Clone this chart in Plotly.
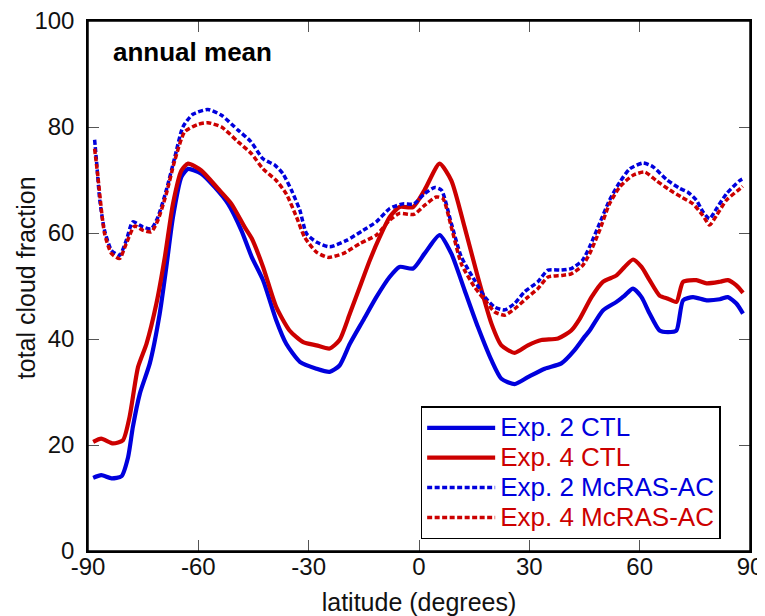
import plotly.graph_objects as go

# Exp. 2 CTL (blue solid)
lat_e2_ctl = [-88.6, -86.4, -83.6, -80.9, -79.1, -77.8, -75.9, -73.2, -70.5, -68.7, -66.9, -64.6, -62.8,
              -59.2, -55.6, -51.9, -48.3, -45.5, -42.4, -38.8, -36.1, -32.4, -27.9, -24.3, -21.6, -18.8,
              -15.2, -11.6, -8.0, -5.3, -1.6, 1.5, 5.6, 8.8, 12.4, 16.0, 19.7, 22.4, 26.0, 29.6, 34.2,
              38.7, 42.3, 45.1, 46.4, 50.0, 53.7, 55.9, 58.2, 60.5, 62.7, 65.4, 67.7, 70.0, 71.8, 74.5,
              78.2, 81.8, 84.0, 86.3, 88.1]
val_e2_ctl = [13.8, 14.3, 13.7, 14.1, 17.7, 23.4, 29.7, 35.4, 44.8, 53.6, 63.0, 70.6, 72.1,
              71.2, 68.7, 65.5, 60.5, 55.5, 51.1, 43.5, 39.1, 35.7, 34.4, 33.8, 35.0, 39.1,
              43.5, 47.9, 51.7, 53.6, 53.3, 56.1, 59.6, 56.1, 49.2, 42.3, 36.0, 32.5, 31.5, 32.8, 34.4,
              35.4, 37.9, 40.5, 41.6, 45.4, 47.0, 48.2, 49.5, 47.9, 44.8, 41.6, 41.3, 41.6, 47.3, 47.9,
              47.3, 47.5, 47.9, 46.7, 44.8]

# Exp. 4 CTL (red solid)
lat_e4_ctl = [-88.6, -86.4, -83.2, -80.5, -78.7, -76.4, -74.1, -71.4, -69.1, -66.9, -64.6, -62.8, -59.2,
              -54.7, -51.0, -47.4, -45.5, -42.4, -38.8, -35.2, -31.5, -27.9, -24.3, -21.6, -18.8, -16.1,
              -13.4, -10.7, -8.0, -5.3, -1.6, 1.5, 5.6, 8.8, 12.4, 16.0, 19.7, 22.4, 26.0, 29.6, 33.3,
              37.8, 41.4, 43.7, 46.9, 50.0, 53.7, 55.9, 58.2, 60.5, 62.7, 65.4, 67.7, 70.0, 71.8, 75.4,
              78.2, 81.8, 84.0, 86.3, 88.1]
val_e4_ctl = [20.6, 21.2, 20.3, 20.9, 25.3, 34.7, 39.1, 46.7, 55.5, 65.5, 71.8, 73.1, 71.8,
              68.4, 65.5, 61.1, 59.0, 53.6, 46.0, 41.6, 39.4, 38.8, 38.2, 39.8, 44.8, 49.8,
              54.8, 59.2, 63.0, 64.9, 64.9, 68.1, 73.1, 69.9, 61.1, 51.7, 42.9, 38.8, 37.4, 38.8, 39.8,
              40.1, 41.6, 43.8, 47.9, 50.8, 52.0, 53.6, 55.0, 53.6, 51.1, 48.2, 47.6, 47.0, 50.8, 51.1,
              50.5, 50.8, 51.1, 50.1, 48.7]

# Exp. 2 McRAS-AC (blue dotted)
lat_e2_mc = [-88.2, -87.7, -86.8, -85.5, -83.6, -81.4, -79.6, -77.8, -75.0, -72.8, -71.0, -68.7, -66.4,
             -64.2, -61.5, -57.4, -53.7, -49.2, -45.8, -42.4, -39.2, -37.0, -34.7, -32.4, -30.6, -27.9,
             -24.3, -19.7, -15.2, -11.6, -8.0, -4.4, -1.4, 1.5, 4.3, 6.1, 8.8, 11.5, 15.1, 17.9, 20.6,
             23.3, 26.0, 28.7, 32.3, 35.1, 38.7, 41.4, 44.4, 46.4, 49.1, 51.8, 54.6, 57.3, 60.9, 63.6,
             67.3, 70.9, 73.1, 75.4, 77.2, 79.0, 80.9, 83.6, 87.2, 88.0]
val_e2_mc = [77.6, 73.7, 66.2, 60.5, 56.7, 55.8, 58.6, 62.1, 61.1, 60.8, 63.0, 68.1, 74.3,
             80.0, 82.4, 83.3, 82.2, 79.4, 77.3, 74.0, 72.8, 71.2, 68.1, 64.3, 59.9, 58.3,
             57.4, 58.6, 60.5, 62.1, 64.6, 65.5, 65.5, 67.4, 68.6, 68.1, 61.8, 55.5, 51.1, 47.9, 46.0,
             45.5, 46.7, 48.9, 50.8, 53.0, 53.0, 53.3, 54.8, 57.4, 61.8, 66.2, 69.6, 72.1, 73.2, 72.5,
             70.1, 68.4, 67.7, 66.2, 64.0, 62.7, 64.6, 67.4, 69.9, 70.2]

# Exp. 4 McRAS-AC (red dotted)
lat_e4_mc = [-88.2, -87.3, -85.5, -83.6, -81.4, -79.6, -77.3, -75.0, -72.8, -71.0, -68.7, -66.4, -63.7,
             -60.1, -57.4, -53.7, -49.2, -45.6, -42.4, -38.8, -36.1, -33.3, -31.1, -27.9, -24.7, -20.7,
             -16.1, -11.6, -8.0, -5.3, -1.4, 1.5, 4.7, 6.5, 8.8, 11.5, 15.1, 18.3, 20.6, 23.3, 26.0,
             29.6, 32.3, 35.1, 38.7, 41.4, 44.4, 46.4, 49.1, 51.8, 54.6, 58.2, 61.4, 64.5, 68.2, 71.3,
             74.5, 77.2, 79.0, 80.9, 83.6, 87.7, 88.0]
val_e4_mc = [75.9, 70.6, 59.9, 56.1, 55.2, 58.0, 61.3, 60.5, 60.2, 62.4, 67.4, 73.7, 79.1,
             80.5, 80.8, 80.0, 77.2, 75.0, 72.1, 69.9, 67.4, 63.0, 59.2, 56.4, 55.4, 56.1,
             58.0, 59.6, 62.4, 63.7, 63.5, 65.2, 66.8, 66.5, 61.1, 54.2, 49.8, 47.0, 45.1, 44.5, 45.7,
             47.9, 49.5, 51.7, 52.0, 52.3, 53.8, 56.1, 60.5, 65.5, 68.7, 70.9, 71.5, 69.9, 68.1, 66.8,
             65.5, 63.3, 61.5, 63.3, 66.2, 68.6, 68.8]

names = ["Exp. 2 CTL", "Exp. 4 CTL", "Exp. 2 McRAS-AC", "Exp. 4 McRAS-AC"]
x_ticks = [-90, -60, -30, 0, 30, 60, 90]
y_ticks = [0, 20, 40, 60, 80, 100]

BLUE = "#0000dd"
RED = "#cc0000"
FONT = "Liberation Sans, Arial, sans-serif"

series = [
    (lat_e2_ctl, val_e2_ctl, BLUE, "solid", 4.2),
    (lat_e4_ctl, val_e4_ctl, RED, "solid", 4.2),
    (lat_e2_mc, val_e2_mc, BLUE, "5px,2.5px", 3.5),
    (lat_e4_mc, val_e4_mc, RED, "5px,2.5px", 3.5),
]

fig = go.Figure()
for (xs, ys, col, dash, w), nm in zip(series, names):
    fig.add_trace(go.Scatter(
        x=xs, y=ys, mode="lines",
        line=dict(color=col, width=w, dash=dash, shape="spline", smoothing=0.6),
        name=f'<span style="font-size:26px;color:{col}">{nm}</span>',
    ))

axis_common = dict(
    showline=True, linecolor="black", linewidth=1.5, mirror="ticks",
    ticks="inside", ticklen=11, tickwidth=1.3, tickcolor="#555",
    showgrid=False, zeroline=False, automargin=False,
    ticklabeloverflow="allow",
    tickfont=dict(size=24, color="#111", family=FONT),
)

# the page puts the figure 8px in from the top-left corner
fig.update_layout(
    width=757, height=608,
    margin=dict(l=80, r=15, t=13, b=65),
    paper_bgcolor="white", plot_bgcolor="white",
    font=dict(family=FONT, color="#111"),
    showlegend=True,
    legend=dict(
        x=0.5025, y=0.022, xanchor="left", yanchor="bottom",
        bordercolor="black", borderwidth=1.5, bgcolor="white",
        font=dict(size=20.7, family=FONT),
        tracegroupgap=0, itemwidth=68,
    ),
    xaxis=dict(range=[-90, 90], tickvals=x_ticks, ticktext=[str(v) for v in x_ticks],
               ticklabelstandoff=-7,
               title=dict(text="latitude (degrees)", font=dict(size=25, family=FONT), standoff=15),
               **axis_common),
    yaxis=dict(range=[0, 100], tickvals=y_ticks, ticktext=[str(v) for v in y_ticks],
               ticklabelstandoff=7,
               **axis_common),
    shapes=[dict(type="rect", xref="paper", yref="paper", x0=0, x1=1, y0=0, y1=1,
                 line=dict(color="black", width=1.5), fillcolor="rgba(0,0,0,0)", layer="above")],
    annotations=[
        dict(text="<b>annual mean</b>", x=0.035, y=0.941, xref="paper", yref="paper",
             xanchor="left", yanchor="middle", showarrow=False,
             font=dict(size=26, family=FONT, color="black")),
        dict(text="total cloud fraction", x=-0.0934, y=0.515, xref="paper", yref="paper",
             xanchor="center", yanchor="middle", showarrow=False, textangle=-90,
             font=dict(size=25, family=FONT, color="#111")),
    ],
)

fig.write_html("out.html")
